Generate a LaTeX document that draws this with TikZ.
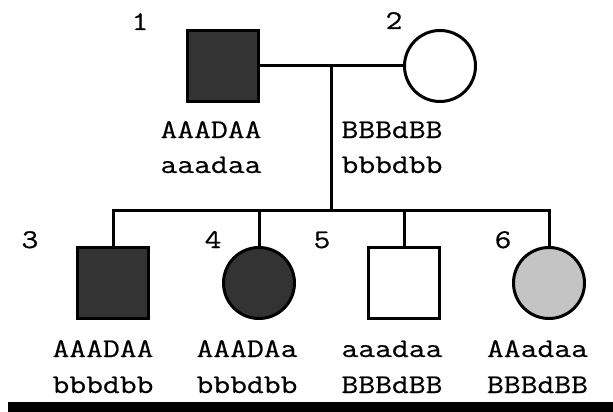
\documentclass[tikz,border=0pt]{standalone}
\usepackage{fontspec}
\newfontfamily\gtfont{Latin Modern Mono}[FakeBold=0.5]
\begin{document}
\begin{tikzpicture}[x=1pt,y=-1pt,
  every node/.style={font=\gtfont\fontsize{27}{32}\selectfont},
  ind/.style={draw=black,line width=3pt,minimum size=71pt,inner sep=0pt},
  male/.style={ind,rectangle},
  female/.style={ind,circle},
  aff/.style={fill=darkfill},
  carr/.style={fill=lightfill},
  unaff/.style={fill=white},
  lbl/.style={anchor=base,inner sep=0pt},
  line/.style={line width=3pt}]
\definecolor{darkfill}{HTML}{333333}
\definecolor{lightfill}{HTML}{C4C4C4}
\newcommand{\widetxt}[1]{\scalebox{1.21}[1]{#1}}
\useasboundingbox (0,0) rectangle (613,412);
% parents
\node[male,aff] (p1) at (223,66) {};
\node[female,unaff] (p2) at (440,66) {};
\coordinate (m) at (331.5,66);
\coordinate (sib) at (331.5,210);
\draw[line] (p1.east) -- (p2.west);
\draw[line] (m) -- (sib);
% children
\node[male,aff] (c3) at (113,283) {};
\node[female,aff] (c4) at (259,283) {};
\node[male,unaff] (c5) at (404,283) {};
\node[female,carr] (c6) at (549,283) {};
\coordinate (s3) at (113,210);
\coordinate (s4) at (259,210);
\coordinate (s5) at (404,210);
\coordinate (s6) at (549,210);
\draw[line] ([xshift=-1.5pt]s3) -- ([xshift=1.5pt]s6);
\draw[line] (s3) -- (c3.north);
\draw[line] (s4) -- (c4.north);
\draw[line] (s5) -- (c5.north);
\draw[line] (s6) -- (c6.north);
% numbers
\node[lbl] (n1) at (140,30) {\widetxt{1}};
\node[lbl] (n2) at (394,29) {\widetxt{2}};
\node[lbl] (n3) at (30,248) {\widetxt{3}};
\node[lbl] (n4) at (213,248) {\widetxt{4}};
\node[lbl] (n5) at (322,248) {\widetxt{5}};
\node[lbl] (n6) at (503,248) {\widetxt{6}};
% genotypes
\node[lbl] (g1a) at (211,138) {\widetxt{AAADAA}};
\node[lbl] (g1b) at (211,173) {\widetxt{aaadaa}};
\node[lbl] (g2a) at (392,138) {\widetxt{BBBdBB}};
\node[lbl] (g2b) at (392,173) {\widetxt{bbbdbb}};
\node[lbl] (g3a) at (103,357) {\widetxt{AAADAA}};
\node[lbl] (g3b) at (103,393) {\widetxt{bbbdbb}};
\node[lbl] (g4a) at (247,357) {\widetxt{AAADAa}};
\node[lbl] (g4b) at (247,393) {\widetxt{bbbdbb}};
\node[lbl] (g5a) at (392,357) {\widetxt{aaadaa}};
\node[lbl] (g5b) at (392,393) {\widetxt{BBBdBB}};
\node[lbl] (g6a) at (537.5,357) {\widetxt{AAadaa}};
\node[lbl] (g6b) at (537.5,393) {\widetxt{BBBdBB}};
% bottom bar
\fill[black] (8,402) rectangle (613,412);
\end{tikzpicture}
\end{document}
